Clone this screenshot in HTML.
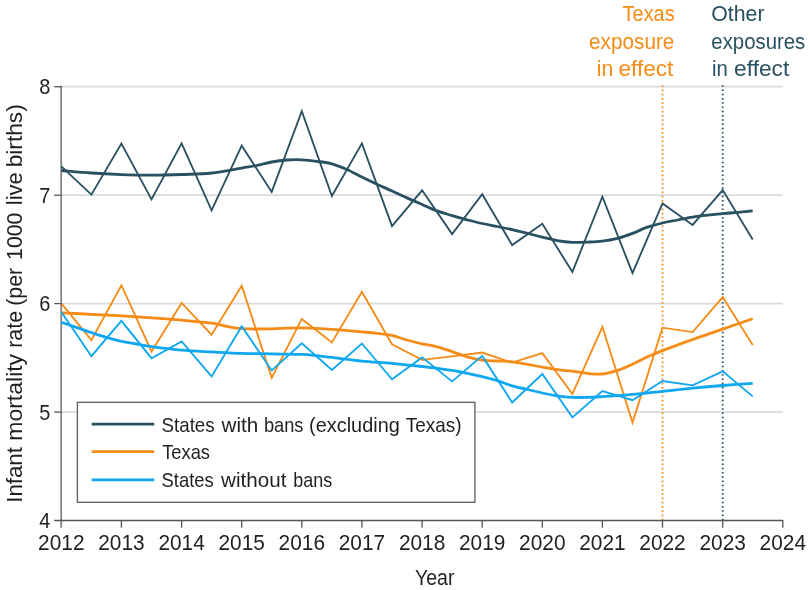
<!DOCTYPE html>
<html><head><meta charset="utf-8"><title>chart</title>
<style>html,body{margin:0;padding:0;background:#fff}svg{display:block;will-change:transform}text{font-family:"Liberation Sans",sans-serif}</style></head><body>
<svg width="810" height="590" viewBox="0 0 810 590">
<rect width="810" height="590" fill="#fff"/>
<line x1="61.3" x2="783" y1="412.1" y2="412.1" stroke="#dbdbdb" stroke-width="1.8"/>
<line x1="61.3" x2="783" y1="303.6" y2="303.6" stroke="#dbdbdb" stroke-width="1.8"/>
<line x1="61.3" x2="783" y1="195.2" y2="195.2" stroke="#dbdbdb" stroke-width="1.8"/>
<line x1="61.3" x2="783" y1="86.7" y2="86.7" stroke="#dbdbdb" stroke-width="1.8"/>
<line x1="662.5" x2="662.5" y1="85.3" y2="520" stroke="#f68b16" stroke-width="1.7" stroke-dasharray="1.6 2.65"/>
<line x1="722.7" x2="722.7" y1="85.2" y2="520" stroke="#295161" stroke-width="1.9" stroke-dasharray="1.65 2.6"/>
<line x1="61.2" x2="61.2" y1="85.8" y2="527.8" stroke="#7f7f7f" stroke-width="1.7"/>
<path d="M61.3 166.3 L91.4 194.6 L121.4 143.6 L151.5 199.4 L181.6 143.4 L211.6 210.3 L241.7 145.7 L271.7 191.9 L301.8 111.2 L331.9 196.0 L361.9 143.4 L392.0 226.1 L422.1 190.3 L452.1 234.1 L482.2 194.2 L512.2 245.1 L542.3 223.8 L572.4 272.0 L602.4 196.7 L632.5 273.1 L662.5 203.4 L692.6 224.9 L722.7 190.1 L752.7 239.4" fill="none" stroke="#295161" stroke-width="1.85" stroke-linejoin="miter"/>
<path d="M61.3 170.5 C66.3 170.9 81.3 172.3 91.4 173.0 C101.4 173.7 111.4 174.2 121.4 174.6 C131.4 175.0 141.5 175.2 151.5 175.2 C161.5 175.2 171.5 174.9 181.6 174.5 C191.6 174.1 201.6 174.1 211.6 173.0 C221.6 171.9 234.2 169.3 241.7 168.1 C249.2 166.8 251.7 166.5 256.7 165.5 C261.7 164.5 266.7 162.9 271.7 162.0 C276.7 161.1 281.8 160.4 286.8 160.0 C291.8 159.6 296.8 159.6 301.8 159.8 C306.8 160.0 311.8 160.6 316.8 161.3 C321.8 162.0 326.9 162.4 331.9 163.8 C336.9 165.2 341.9 167.3 346.9 169.5 C351.9 171.7 356.9 174.6 361.9 177.1 C366.9 179.6 371.9 182.0 377.0 184.3 C382.0 186.6 387.0 188.7 392.0 191.0 C397.0 193.3 402.0 195.7 407.0 197.9 C412.0 200.2 417.0 202.3 422.1 204.5 C427.1 206.7 432.1 209.1 437.1 210.9 C442.1 212.8 447.1 214.1 452.1 215.6 C457.1 217.1 462.1 218.5 467.1 219.8 C472.2 221.1 477.2 222.4 482.2 223.5 C487.2 224.6 492.2 225.5 497.2 226.5 C502.2 227.5 507.2 228.5 512.2 229.7 C517.2 230.8 522.3 232.2 527.3 233.4 C532.3 234.6 537.3 235.9 542.3 237.1 C547.3 238.3 552.3 239.7 557.3 240.6 C562.3 241.5 567.4 242.1 572.4 242.3 C577.4 242.6 582.4 242.3 587.4 242.1 C592.4 241.9 597.4 241.8 602.4 241.2 C607.4 240.6 612.4 239.7 617.5 238.4 C622.5 237.1 627.5 235.3 632.5 233.4 C637.5 231.5 642.5 228.9 647.5 227.2 C652.5 225.5 657.5 224.2 662.5 223.0 C667.6 221.8 672.6 221.0 677.6 220.0 C682.6 219.0 687.6 217.9 692.6 217.1 C697.6 216.3 702.6 215.7 707.6 215.1 C712.7 214.5 717.7 214.0 722.7 213.6 C727.7 213.2 732.7 212.8 737.7 212.4 C742.7 212.0 750.2 211.2 752.7 210.9" fill="none" stroke="#295161" stroke-width="2.8" stroke-linecap="butt"/>
<path d="M61.3 303.4 L91.4 340.1 L121.4 285.2 L151.5 351.5 L181.6 302.9 L211.6 334.7 L241.7 285.7 L271.7 377.8 L301.8 318.9 L331.9 342.4 L361.9 291.8 L392.0 344.3 L422.1 359.8 L452.1 356.3 L482.2 352.5 L512.2 362.6 L542.3 353.2 L572.4 394.0 L602.4 326.8 L632.5 422.6 L662.5 327.7 L692.6 332.1 L722.7 297.1 L752.7 345.1" fill="none" stroke="#f68b16" stroke-width="1.85" stroke-linejoin="miter"/>
<path d="M61.3 312.8 C66.3 313.1 81.3 313.8 91.4 314.3 C101.4 314.8 111.4 315.2 121.4 315.8 C131.4 316.4 141.5 317.1 151.5 317.8 C161.5 318.5 171.5 319.3 181.6 320.2 C191.6 321.1 204.1 322.2 211.6 323.2 C219.1 324.2 221.6 325.5 226.6 326.4 C231.7 327.3 234.2 328.3 241.7 328.7 C249.2 329.1 264.2 329.0 271.7 328.9 C279.3 328.8 281.8 328.4 286.8 328.2 C291.8 328.0 294.3 327.7 301.8 327.9 C309.3 328.1 321.8 328.7 331.9 329.4 C341.9 330.1 354.4 331.2 361.9 331.9 C369.4 332.6 371.9 332.8 377.0 333.4 C382.0 334.0 387.0 334.2 392.0 335.3 C397.0 336.4 402.0 338.6 407.0 340.0 C412.0 341.4 417.0 342.7 422.1 343.8 C427.1 344.9 432.1 345.6 437.1 346.9 C442.1 348.2 447.1 350.0 452.1 351.6 C457.1 353.2 462.1 355.4 467.1 356.8 C472.2 358.2 477.2 359.3 482.2 360.0 C487.2 360.7 492.2 360.7 497.2 361.0 C502.2 361.3 507.2 361.2 512.2 361.8 C517.2 362.4 522.3 363.4 527.3 364.3 C532.3 365.2 537.3 366.3 542.3 367.2 C547.3 368.1 552.3 369.0 557.3 369.7 C562.3 370.4 567.4 370.6 572.4 371.2 C577.4 371.8 582.4 372.9 587.4 373.4 C592.4 373.9 597.4 374.5 602.4 374.0 C607.4 373.5 612.4 372.0 617.5 370.4 C622.5 368.8 627.5 366.5 632.5 364.2 C637.5 361.9 642.5 359.1 647.5 356.8 C652.5 354.5 655.0 353.5 662.5 350.6 C670.1 347.7 682.6 343.1 692.6 339.5 C702.6 335.9 712.7 332.6 722.7 329.1 C732.7 325.6 747.7 320.4 752.7 318.7" fill="none" stroke="#f68b16" stroke-width="2.8" stroke-linecap="butt"/>
<path d="M61.3 312.1 L91.4 356.2 L121.4 320.8 L151.5 358.2 L181.6 341.4 L211.6 376.4 L241.7 326.2 L271.7 370.4 L301.8 343.2 L331.9 369.9 L361.9 343.5 L392.0 379.3 L422.1 357.4 L452.1 381.4 L482.2 355.9 L512.2 402.5 L542.3 374.0 L572.4 417.4 L602.4 391.0 L632.5 400.2 L662.5 381.0 L692.6 385.3 L722.7 371.4 L752.7 396.4" fill="none" stroke="#0fa7ef" stroke-width="1.85" stroke-linejoin="miter"/>
<path d="M61.3 322.2 C63.8 323.1 71.3 325.7 76.3 327.4 C81.3 329.1 86.4 331.0 91.4 332.6 C96.4 334.2 101.4 335.9 106.4 337.3 C111.4 338.8 116.4 340.2 121.4 341.3 C126.4 342.4 131.4 343.1 136.5 344.0 C141.5 344.9 144.0 345.7 151.5 346.7 C159.0 347.7 171.5 349.3 181.6 350.2 C191.6 351.1 201.6 351.4 211.6 351.9 C221.6 352.4 231.7 353.0 241.7 353.3 C251.7 353.6 261.7 353.7 271.7 353.9 C281.8 354.1 294.3 354.1 301.8 354.4 C309.3 354.7 311.8 355.1 316.8 355.6 C321.8 356.1 324.3 356.5 331.9 357.4 C339.4 358.3 351.9 360.1 361.9 361.1 C371.9 362.1 382.0 362.4 392.0 363.3 C402.0 364.2 412.0 365.3 422.1 366.5 C432.1 367.7 442.1 368.7 452.1 370.4 C462.1 372.1 474.7 374.9 482.2 376.6 C489.7 378.3 492.2 379.1 497.2 380.6 C502.2 382.1 507.2 384.3 512.2 385.8 C517.2 387.3 522.3 388.3 527.3 389.5 C532.3 390.7 537.3 391.9 542.3 393.0 C547.3 394.1 552.3 395.2 557.3 395.9 C562.3 396.6 567.4 397.1 572.4 397.4 C577.4 397.6 582.4 397.5 587.4 397.4 C592.4 397.3 594.9 397.1 602.4 396.6 C609.9 396.1 622.5 395.3 632.5 394.4 C642.5 393.5 652.5 392.4 662.5 391.4 C672.6 390.4 682.6 389.2 692.6 388.2 C702.6 387.2 712.7 386.3 722.7 385.5 C732.7 384.7 747.7 383.7 752.7 383.3" fill="none" stroke="#0fa7ef" stroke-width="2.8" stroke-linecap="butt"/>
<rect x="77.4" y="402.3" width="397.5" height="100" fill="#fff" stroke="#636363" stroke-width="1.35"/>
<line x1="91.7" x2="154.3" y1="424.1" y2="424.1" stroke="#295161" stroke-width="2.7"/>
<line x1="91.7" x2="154.3" y1="451.7" y2="451.7" stroke="#f68b16" stroke-width="2.7"/>
<line x1="91.7" x2="154.3" y1="479.9" y2="479.9" stroke="#0fa7ef" stroke-width="2.7"/>
<text x="161.50" y="431.6" font-size="21" text-anchor="start" fill="#231f20" textLength="53.20" lengthAdjust="spacingAndGlyphs">States</text>
<text x="221.59" y="431.6" font-size="21" text-anchor="start" fill="#231f20" textLength="36.78" lengthAdjust="spacingAndGlyphs">with</text>
<text x="263.91" y="431.6" font-size="21" text-anchor="start" fill="#231f20" textLength="39.47" lengthAdjust="spacingAndGlyphs">bans</text>
<text x="309.10" y="431.6" font-size="21" text-anchor="start" fill="#231f20" textLength="90.70" lengthAdjust="spacingAndGlyphs">(excluding</text>
<text x="405.80" y="431.6" font-size="21" text-anchor="start" fill="#231f20" textLength="55.78" lengthAdjust="spacingAndGlyphs">Texas)</text>
<text x="162.22" y="459.4" font-size="21" text-anchor="start" fill="#231f20" textLength="47.78" lengthAdjust="spacingAndGlyphs">Texas</text>
<text x="161.51" y="487.4" font-size="21" text-anchor="start" fill="#231f20" textLength="52.28" lengthAdjust="spacingAndGlyphs">States</text>
<text x="221.10" y="487.4" font-size="21" text-anchor="start" fill="#231f20" textLength="65.31" lengthAdjust="spacingAndGlyphs">without</text>
<text x="293.22" y="487.4" font-size="21" text-anchor="start" fill="#231f20" textLength="38.97" lengthAdjust="spacingAndGlyphs">bans</text>
<text x="622.59" y="21.2" font-size="22.2" text-anchor="start" fill="#f68b16" textLength="52.10" lengthAdjust="spacingAndGlyphs">Texas</text>
<text x="589.10" y="48.9" font-size="22.2" text-anchor="start" fill="#f68b16" textLength="85.29" lengthAdjust="spacingAndGlyphs">exposure</text>
<text x="596.79" y="76.2" font-size="22.2" text-anchor="start" fill="#f68b16" textLength="16.52" lengthAdjust="spacingAndGlyphs">in</text>
<text x="618.51" y="76.2" font-size="22.2" text-anchor="start" fill="#f68b16" textLength="54.89" lengthAdjust="spacingAndGlyphs">effect</text>
<text x="711.32" y="21.2" font-size="22.2" text-anchor="start" fill="#295161" textLength="53.18" lengthAdjust="spacingAndGlyphs">Other</text>
<text x="711.31" y="48.9" font-size="22.2" text-anchor="start" fill="#295161" textLength="93.99" lengthAdjust="spacingAndGlyphs">exposures</text>
<text x="712.10" y="76.2" font-size="22.2" text-anchor="start" fill="#295161" textLength="15.80" lengthAdjust="spacingAndGlyphs">in</text>
<text x="734.10" y="76.2" font-size="22.2" text-anchor="start" fill="#295161" textLength="55.19" lengthAdjust="spacingAndGlyphs">effect</text>
<text x="415.03" y="584.7" font-size="22" text-anchor="start" fill="#231f20" textLength="39.47" lengthAdjust="spacingAndGlyphs">Year</text>
<path d="M54.2 520.5 H782.8 M782.8 519.9 V527.7" fill="none" stroke="#555555" stroke-width="1.3"/>
<line x1="54.2" x2="61.9" y1="412.1" y2="412.1" stroke="#555555" stroke-width="1.3"/>
<line x1="54.2" x2="61.9" y1="303.6" y2="303.6" stroke="#555555" stroke-width="1.3"/>
<line x1="54.2" x2="61.9" y1="195.2" y2="195.2" stroke="#555555" stroke-width="1.3"/>
<line x1="54.2" x2="61.9" y1="86.7" y2="86.7" stroke="#555555" stroke-width="1.3"/>
<line x1="121.4" x2="121.4" y1="520.5" y2="527.7" stroke="#555555" stroke-width="1.3"/>
<line x1="181.6" x2="181.6" y1="520.5" y2="527.7" stroke="#555555" stroke-width="1.3"/>
<line x1="241.7" x2="241.7" y1="520.5" y2="527.7" stroke="#555555" stroke-width="1.3"/>
<line x1="301.8" x2="301.8" y1="520.5" y2="527.7" stroke="#555555" stroke-width="1.3"/>
<line x1="361.9" x2="361.9" y1="520.5" y2="527.7" stroke="#555555" stroke-width="1.3"/>
<line x1="422.1" x2="422.1" y1="520.5" y2="527.7" stroke="#555555" stroke-width="1.3"/>
<line x1="482.2" x2="482.2" y1="520.5" y2="527.7" stroke="#555555" stroke-width="1.3"/>
<line x1="542.3" x2="542.3" y1="520.5" y2="527.7" stroke="#555555" stroke-width="1.3"/>
<line x1="602.4" x2="602.4" y1="520.5" y2="527.7" stroke="#555555" stroke-width="1.3"/>
<line x1="662.5" x2="662.5" y1="520.5" y2="527.7" stroke="#555555" stroke-width="1.3"/>
<line x1="722.7" x2="722.7" y1="520.5" y2="527.7" stroke="#555555" stroke-width="1.3"/>
<text x="50.4" y="527.9" font-size="21.4" text-anchor="end" fill="#231f20" textLength="11.1" lengthAdjust="spacingAndGlyphs">4</text>
<text x="50.4" y="419.5" font-size="21.4" text-anchor="end" fill="#231f20" textLength="11.1" lengthAdjust="spacingAndGlyphs">5</text>
<text x="50.4" y="311.0" font-size="21.4" text-anchor="end" fill="#231f20" textLength="11.1" lengthAdjust="spacingAndGlyphs">6</text>
<text x="50.4" y="202.6" font-size="21.4" text-anchor="end" fill="#231f20" textLength="11.1" lengthAdjust="spacingAndGlyphs">7</text>
<text x="50.4" y="94.1" font-size="21.4" text-anchor="end" fill="#231f20" textLength="11.1" lengthAdjust="spacingAndGlyphs">8</text>
<text x="61.3" y="550.2" font-size="21.6" text-anchor="middle" fill="#231f20" textLength="46.4" lengthAdjust="spacingAndGlyphs">2012</text>
<text x="121.4" y="550.2" font-size="21.6" text-anchor="middle" fill="#231f20" textLength="46.4" lengthAdjust="spacingAndGlyphs">2013</text>
<text x="181.6" y="550.2" font-size="21.6" text-anchor="middle" fill="#231f20" textLength="46.4" lengthAdjust="spacingAndGlyphs">2014</text>
<text x="241.7" y="550.2" font-size="21.6" text-anchor="middle" fill="#231f20" textLength="46.4" lengthAdjust="spacingAndGlyphs">2015</text>
<text x="301.8" y="550.2" font-size="21.6" text-anchor="middle" fill="#231f20" textLength="46.4" lengthAdjust="spacingAndGlyphs">2016</text>
<text x="361.9" y="550.2" font-size="21.6" text-anchor="middle" fill="#231f20" textLength="46.4" lengthAdjust="spacingAndGlyphs">2017</text>
<text x="422.1" y="550.2" font-size="21.6" text-anchor="middle" fill="#231f20" textLength="46.4" lengthAdjust="spacingAndGlyphs">2018</text>
<text x="482.2" y="550.2" font-size="21.6" text-anchor="middle" fill="#231f20" textLength="46.4" lengthAdjust="spacingAndGlyphs">2019</text>
<text x="542.3" y="550.2" font-size="21.6" text-anchor="middle" fill="#231f20" textLength="46.4" lengthAdjust="spacingAndGlyphs">2020</text>
<text x="602.4" y="550.2" font-size="21.6" text-anchor="middle" fill="#231f20" textLength="46.4" lengthAdjust="spacingAndGlyphs">2021</text>
<text x="662.5" y="550.2" font-size="21.6" text-anchor="middle" fill="#231f20" textLength="46.4" lengthAdjust="spacingAndGlyphs">2022</text>
<text x="722.7" y="550.2" font-size="21.6" text-anchor="middle" fill="#231f20" textLength="46.4" lengthAdjust="spacingAndGlyphs">2023</text>
<text x="782.8" y="550.2" font-size="21.6" text-anchor="middle" fill="#231f20" textLength="46.4" lengthAdjust="spacingAndGlyphs">2024</text>
<text transform="translate(22.2 502.77) rotate(-90)" font-size="22" fill="#231f20" textLength="55.68" lengthAdjust="spacingAndGlyphs">Infant</text>
<text transform="translate(22.2 440.69) rotate(-90)" font-size="22" fill="#231f20" textLength="86.80" lengthAdjust="spacingAndGlyphs">mortality</text>
<text transform="translate(22.2 347.79) rotate(-90)" font-size="22" fill="#231f20" textLength="36.89" lengthAdjust="spacingAndGlyphs">rate</text>
<text transform="translate(22.2 305.78) rotate(-90)" font-size="22" fill="#231f20" textLength="37.97" lengthAdjust="spacingAndGlyphs">(per</text>
<text transform="translate(22.2 259.98) rotate(-90)" font-size="22" fill="#231f20" textLength="47.47" lengthAdjust="spacingAndGlyphs">1000</text>
<text transform="translate(22.2 205.20) rotate(-90)" font-size="22" fill="#231f20" textLength="32.89" lengthAdjust="spacingAndGlyphs">live</text>
<text transform="translate(22.2 167.30) rotate(-90)" font-size="22" fill="#231f20" textLength="63.00" lengthAdjust="spacingAndGlyphs">births)</text>
</svg></body></html>
